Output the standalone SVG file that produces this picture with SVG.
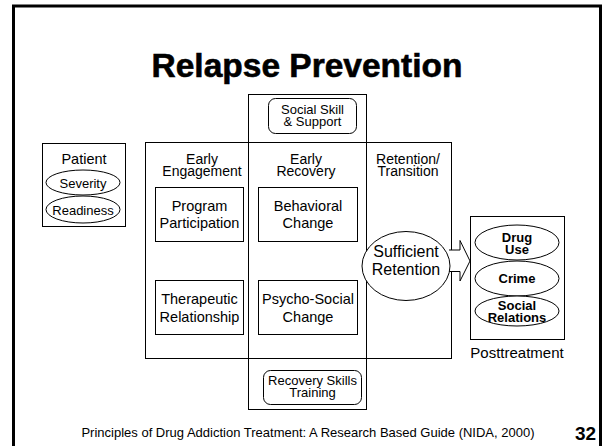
<svg xmlns="http://www.w3.org/2000/svg" width="602" height="446" viewBox="0 0 602 446">
<style>
text{font-family:"Liberation Sans",Arial,sans-serif;fill:#000;text-anchor:middle}
.box{fill:#fff;stroke:#000;stroke-width:1}
.lbl{font-size:14.5px}
.hd{font-size:14px}
.sm{font-size:13px}
.b{font-weight:bold;font-size:13px}
</style>
<rect x="0" y="0" width="602" height="446" fill="#fff"/>
<path d="M13.5 450 V6 H600.5 V450" fill="none" stroke="#000" stroke-width="3"/>
<text x="307" y="77" style="font-size:33.5px;font-weight:bold;stroke:#000;stroke-width:0.6">Relapse Prevention</text>

<g id="patient">
<rect class="box" x="42.5" y="143.5" width="83" height="83"/>
<text class="lbl" x="84" y="164">Patient</text>
<ellipse class="box" cx="83" cy="182.5" rx="37" ry="12.5"/>
<text class="sm" x="83" y="187.5">Severity</text>
<ellipse class="box" cx="83" cy="209.5" rx="37" ry="13.5"/>
<text class="sm" x="83" y="214.5">Readiness</text>
</g>

<g id="stages">
<rect class="box" x="145.5" y="142.5" width="306" height="216" fill="none"/>
<rect x="248.5" y="94.5" width="118" height="315" fill="none" stroke="#000"/>
<text class="hd" x="202" y="164">Early</text>
<text class="hd" x="202" y="176">Engagement</text>
<text class="hd" x="306" y="164">Early</text>
<text class="hd" x="306" y="176">Recovery</text>
<text class="hd" x="408" y="164">Retention/</text>
<text class="hd" x="408" y="176">Transition</text>
</g>

<g id="social-skill">
<rect class="box" x="268.5" y="98.5" width="88" height="35" rx="7"/>
<text class="sm" x="312.5" y="114">Social Skill</text>
<text class="sm" x="312.5" y="126">&amp; Support</text>
</g>

<g id="program">
<rect class="box" x="155.5" y="187.5" width="88" height="54"/>
<text class="lbl" x="199.5" y="211">Program</text>
<text class="lbl" x="199.5" y="228">Participation</text>
</g>

<g id="behavioral">
<rect class="box" x="258.5" y="187.5" width="99" height="54"/>
<text class="lbl" x="308" y="211">Behavioral</text>
<text class="lbl" x="308" y="228">Change</text>
</g>

<g id="therapeutic">
<rect class="box" x="155.5" y="280.5" width="88" height="54"/>
<text class="lbl" x="199.5" y="304">Therapeutic</text>
<text class="lbl" x="199.5" y="321.5">Relationship</text>
</g>

<g id="psycho">
<rect class="box" x="258.5" y="280.5" width="99" height="54"/>
<text class="lbl" x="308" y="304">Psycho-Social</text>
<text class="lbl" x="308" y="321.5">Change</text>
</g>

<g id="recovery-skills">
<rect class="box" x="263.5" y="370.5" width="98" height="34" rx="7"/>
<text class="sm" x="312.5" y="385">Recovery Skills</text>
<text class="sm" x="312.5" y="397">Training</text>
</g>

<g id="connectors">
<path class="box" d="M449 250 H460 V240.5 L470 261 L460 281 V271.5 H449"/>
</g>

<g id="retention">
<ellipse class="box" cx="406" cy="266" rx="44" ry="34.5"/>
<text x="406" y="257" style="font-size:16px">Sufficient</text>
<text x="406" y="274.5" style="font-size:16px">Retention</text>
</g>

<g id="posttreatment">
<rect class="box" x="470.5" y="216.5" width="94" height="123"/>
<ellipse class="box" cx="517" cy="242.5" rx="42" ry="17.5"/>
<text class="b" x="517" y="242">Drug</text>
<text class="b" x="517" y="253.5">Use</text>
<ellipse class="box" cx="517" cy="278.5" rx="42" ry="17.5"/>
<text class="b" x="517" y="283">Crime</text>
<ellipse class="box" cx="517" cy="311" rx="42" ry="15"/>
<text class="b" x="517" y="310">Social</text>
<text class="b" x="517" y="322">Relations</text>
<text class="lbl" x="517" y="358" style="font-size:15px">Posttreatment</text>
</g>

<text x="308" y="437" style="font-size:13px">Principles of Drug Addiction Treatment: A Research Based Guide (NIDA, 2000)</text>
<text x="575" y="440" style="font-size:19px;font-weight:bold;text-anchor:start">32</text>
</svg>
